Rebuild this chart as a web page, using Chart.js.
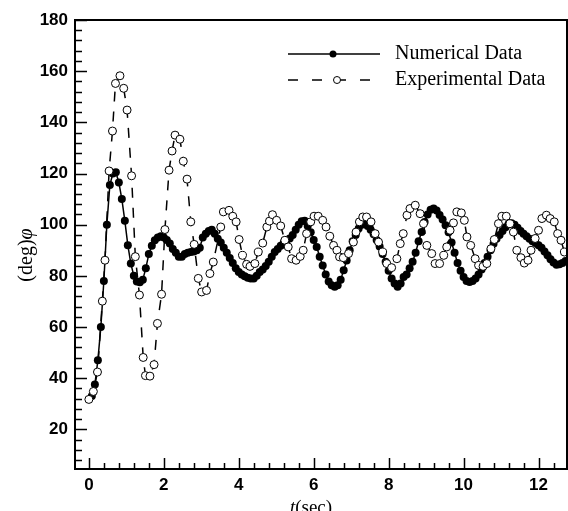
<!DOCTYPE html>
<html><head><meta charset="utf-8">
<script src="https://cdn.jsdelivr.net/npm/chart.js@4/dist/chart.umd.min.js"></script>
<style>html,body{margin:0;padding:0;background:#fff}#wrap{width:568px;height:511px;position:relative}</style>
</head><body><div id="wrap"><canvas id="c"></canvas></div>
<script>
// ---- data ----
const numericalStart = 0.08;   // first sample time (sec)
const numericalStep = 0.08;    // sample spacing (sec)
const numericalPhi = [
  33, 37.5, 47, 60, 78, 100, 115.5, 120, 120.5, 116.5,
  110, 101.5, 92, 84.8, 80, 77.8, 77.5, 78.5, 83, 88.5,
  91.8, 93.9, 95, 95.5, 95, 94, 92.6, 90.5, 89, 87.5,
  87.5, 88.5, 89, 89.3, 89.5, 90, 91, 95, 96.5, 97.5,
  98, 96.5, 94.5, 93, 91, 89, 87, 85, 83, 81.5,
  80.5, 79.8, 79.3, 79, 79, 80, 81.5, 82.5, 83.8, 85.5,
  87.5, 89.3, 90.5, 91.8, 93, 94, 94.6, 96, 98, 100,
  101.3, 101.5, 99.5, 97, 94, 91.3, 87.5, 84, 80.5, 77.8,
  76.3, 75.7, 76.3, 78.5, 82.2, 86, 90, 93.5, 96, 98.5,
  100, 100.4, 99.5, 98, 96.3, 94, 91.5, 88.5, 85.5, 82,
  79, 77, 75.7, 77, 79.5, 80.5, 83, 85.5, 89, 93.5,
  97.1, 101, 104, 105.8, 106.3, 105.5, 103.8, 102, 99.8, 97,
  93, 89, 85, 82, 79.5, 78, 77.6, 78, 79, 80.5,
  82.5, 85, 87.5, 90, 92.5, 94.5, 96, 97.5, 99, 100.3,
  100.6, 100, 98.8, 97.5, 96.5, 95.5, 94.5, 93.5, 92.8, 92,
  91, 89.5, 88, 86.5, 85.2, 84.3, 84.5, 85, 85.8
];
const experimentalT = [
  0.00, 0.12, 0.23, 0.36, 0.43, 0.54, 0.63, 0.71, 0.83, 0.93,
  1.02, 1.14, 1.24, 1.35, 1.45, 1.51, 1.63, 1.74, 1.83, 1.94,
  2.03, 2.14, 2.22, 2.30, 2.43, 2.52, 2.62, 2.72, 2.81, 2.92,
  3.01, 3.14, 3.23, 3.32, 3.52, 3.59, 3.74, 3.84, 3.93, 4.01,
  4.10, 4.21, 4.30, 4.43, 4.52, 4.64, 4.75, 4.82, 4.90, 5.01,
  5.12, 5.23, 5.32, 5.41, 5.53, 5.64, 5.72, 5.81, 5.92, 6.01,
  6.12, 6.24, 6.33, 6.43, 6.53, 6.62, 6.69, 6.79, 6.93, 7.06,
  7.13, 7.22, 7.31, 7.41, 7.53, 7.64, 7.73, 7.84, 7.95, 8.08,
  8.22, 8.31, 8.39, 8.49, 8.57, 8.71, 8.84, 8.93, 9.02, 9.15,
  9.24, 9.36, 9.47, 9.55, 9.64, 9.73, 9.82, 9.94, 10.02, 10.09,
  10.19, 10.31, 10.40, 10.52, 10.62, 10.73, 10.82, 10.93, 11.02, 11.14,
  11.24, 11.33, 11.42, 11.53, 11.62, 11.72, 11.80, 11.91, 12.00, 12.09,
  12.21, 12.31, 12.42, 12.51, 12.60, 12.69
];
const experimentalPhi = [
  31.7, 34.8, 42.4, 70.1, 86.1, 121, 136.6, 155.2, 158.2, 153.3,
  144.8, 119.1, 87.5, 72.5, 48.1, 41, 40.8, 45.3, 61.4, 72.8,
  98.1, 121.3, 128.8, 135, 133.4, 124.8, 117.8, 101.1, 92.3, 79,
  73.7, 74.3, 80.9, 85.4, 99.1, 105, 105.6, 103.3, 101.1, 94.2,
  88, 84.5, 83.7, 84.8, 89.3, 92.8, 99.1, 101.4, 103.9, 101.7,
  99.5, 93.9, 91.3, 86.7, 86.1, 87.6, 90, 96.5, 101.1, 103.3,
  103.3, 101.7, 99.1, 95.5, 91.9, 90, 87.4, 87.1, 88.7, 93.2,
  97.1, 101.1, 103, 103, 101.1, 96.5, 93.2, 89.3, 84.8, 83.2,
  86.7, 92.6, 96.5, 103.7, 106.3, 107.6, 104.3, 100.4, 91.9, 88.7,
  84.8, 84.8, 88, 91.3, 97.8, 100.7, 105, 104.6, 101.7, 95.2,
  91.9, 86.7, 84.1, 83.7, 84.8, 90.6, 94.2, 100.4, 103.3, 103.3,
  100.4, 97.1, 90, 87.1, 85, 86.1, 90, 94.6, 97.8, 102.4,
  103.7, 102.4, 101.1, 96.5, 93.9, 89.3
];
const xTickValues = [0, 2, 4, 6, 8, 10, 12];
const yTickValues = [20, 40, 60, 80, 100, 120, 140, 160, 180];
const xMinorStep = 0.4;
const yMinorStep = 4;
const seriesNames = ['Numerical Data', 'Experimental Data'];
const xTitleParts = [['t', 'italic'], ['(sec)', 'normal']];
const yTitleParts = [['(deg)', 'normal'], ['φ', 'italic']];

// ---- build chart data ----
const numericalPoints = numericalPhi.map((v, i) => ({x: +(numericalStart + i * numericalStep).toFixed(2), y: v}));
const experimentalPoints = experimentalPhi.map((v, i) => ({x: experimentalT[i], y: v}));

const SERIF = '"Liberation Serif", "Times New Roman", serif';

const decor = {
  id: 'decor',
  afterDatasetsDraw(chart) {
    const ctx = chart.ctx, a = chart.chartArea;
    const xs = chart.scales.x, ys = chart.scales.y;
    ctx.save();
    ctx.strokeStyle = '#000';
    // inward ticks
    ctx.lineWidth = 1.5;
    ctx.beginPath();
    for (let v = 0; v <= xs.max + 1e-9; v += xMinorStep) {
      const r = Math.round(v * 10) / 10;
      const major = xTickValues.includes(r);
      const px = Math.round(xs.getPixelForValue(r)) + 0.5;
      ctx.moveTo(px, a.bottom);
      ctx.lineTo(px, a.bottom - (major ? 11 : 6));
    }
    for (let v = yMinorStep * 2; v <= ys.max + 1e-9; v += yMinorStep) {
      const major = yTickValues.includes(v);
      const py = Math.round(ys.getPixelForValue(v)) + 0.5;
      ctx.moveTo(a.left, py);
      ctx.lineTo(a.left + (major ? 12 : 7), py);
    }
    ctx.stroke();
    // frame
    ctx.lineWidth = 2;
    ctx.strokeRect(a.left, a.top, a.right - a.left, a.bottom - a.top);
    ctx.restore();

    // legend
    ctx.save();
    ctx.strokeStyle = '#000';
    ctx.fillStyle = '#000';
    ctx.lineWidth = 1.5;
    ctx.beginPath(); ctx.moveTo(288, 54); ctx.lineTo(380, 54); ctx.stroke();
    ctx.beginPath(); ctx.arc(333, 54, 3.5, 0, Math.PI * 2); ctx.fill();
    ctx.setLineDash([10, 14]);
    ctx.beginPath(); ctx.moveTo(288, 80); ctx.lineTo(372, 80); ctx.stroke();
    ctx.setLineDash([]);
    ctx.lineWidth = 1;
    ctx.beginPath(); ctx.arc(337, 80, 3.5, 0, Math.PI * 2);
    ctx.fillStyle = '#fff'; ctx.fill(); ctx.stroke();
    ctx.fillStyle = '#000';
    ctx.font = '20px ' + SERIF;
    ctx.textBaseline = 'middle';
    ctx.fillText(seriesNames[0], 395, 54);
    ctx.fillText(seriesNames[1], 395, 80);

    // axis titles (mixed italic)
    const drawParts = (parts, cx, cy, rot, size) => {
      ctx.save();
      ctx.translate(cx, cy);
      if (rot) ctx.rotate(-Math.PI / 2);
      let total = 0;
      const widths = parts.map(([t, s]) => { ctx.font = s + ' ' + size + 'px ' + SERIF; const w = ctx.measureText(t).width; total += w; return w; });
      let x = -total / 2;
      ctx.textBaseline = 'alphabetic';
      parts.forEach(([t, s], i) => { ctx.font = s + ' ' + size + 'px ' + SERIF; ctx.fillText(t, x, 0); x += widths[i]; });
      ctx.restore();
    };
    drawParts(xTitleParts, 311, 513, false, 19);
    drawParts(yTitleParts, 32, 255, true, 20);
    ctx.restore();
  }
};

const tickFont = {family: '"Liberation Sans", Arial, sans-serif', size: 17, weight: 'bold'};

new Chart(document.getElementById('c'), {
  type: 'scatter',
  data: {
    datasets: [
      {
        label: seriesNames[0], data: numericalPoints, showLine: true, order: 1,
        borderColor: '#000', borderWidth: 1.5,
        pointRadius: 4, pointBackgroundColor: '#000', pointBorderColor: '#000', pointBorderWidth: 0
      },
      {
        label: seriesNames[1], data: experimentalPoints, showLine: true, order: 0,
        borderColor: '#000', borderWidth: 1.5, borderDash: [10, 10],
        pointRadius: 4, pointBackgroundColor: '#fff', pointBorderColor: '#000', pointBorderWidth: 1
      }
    ]
  },
  options: {
    responsive: true, maintainAspectRatio: false, animation: false,
    layout: {autoPadding: false, padding: {top: 20, right: 1, left: 0, bottom: 0}},
    plugins: {legend: {display: false}, tooltip: {enabled: false}},
    scales: {
      x: {
        type: 'linear', min: -0.37, max: 12.76,
        grid: {display: false, drawTicks: false}, border: {display: false},
        afterBuildTicks: s => { s.ticks = xTickValues.map(v => ({value: v})); },
        afterFit: s => { s.height = 42; s.paddingRight = 0; s.paddingLeft = 0; },
        ticks: {font: tickFont, color: '#000', padding: 6, maxRotation: 0}
      },
      y: {
        type: 'linear', min: 4.5, max: 180,
        grid: {display: false, drawTicks: false}, border: {display: false},
        afterBuildTicks: s => { s.ticks = yTickValues.map(v => ({value: v})); },
        afterFit: s => { s.width = 75; s.paddingTop = 0; s.paddingBottom = 0; },
        ticks: {font: tickFont, color: '#000', padding: 7}
      }
    }
  },
  plugins: [decor]
});
</script>
</body></html>
